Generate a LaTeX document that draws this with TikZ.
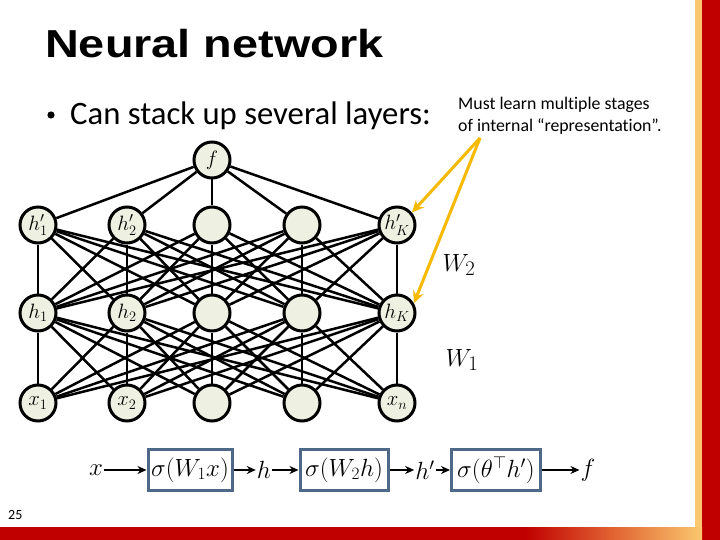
\documentclass[tikz,border=0pt]{standalone}
\usepackage{fontspec}
\setmainfont[Ligatures={NoCommon}]{Carlito}
\newfontfamily\titlefont{Liberation Sans}
\usepackage{amsmath}
\usetikzlibrary{arrows.meta}
\definecolor{nodefill}{RGB}{238,240,225}
\definecolor{slidered}{RGB}{192,0,0}
\definecolor{stripe}{RGB}{250,200,110}
\definecolor{boxblue}{RGB}{78,105,135}
\definecolor{arrowgold}{RGB}{245,185,0}
\begin{document}
\begin{tikzpicture}[x=1pt,y=-1pt,
  neuron/.style={circle,draw=black,line width=3pt,fill=nodefill,minimum size=36pt,inner sep=0pt,font=\fontsize{21}{24}\selectfont},
  conn/.style={line width=2.5pt,black},
  fbox/.style={draw=boxblue,line width=3pt,minimum height=41pt,inner sep=1pt,font=\fontsize{25}{28}\selectfont},
  flab/.style={inner sep=1pt,font=\fontsize{25}{28}\selectfont},
  farrow/.style={line width=2.2pt,-{Stealth[length=9pt,width=8pt]}},
  goldarrow/.style={draw=arrowgold,line width=3pt,-{Stealth[length=12pt,width=11pt]}}]
\useasboundingbox (0,0) rectangle (720,540);
\fill[white] (0,0) rectangle (720,540);
% slide frame
\fill[slidered] (702,0) rectangle (720,540);
\fill[stripe] (695,0) rectangle (702,527);
\fill[slidered] (0,527) rectangle (530,540);
\shade[left color=slidered,right color=stripe,middle color={rgb,255:red,225;green,100;blue,50}] (525,527) rectangle (702,540);
% title and bullet
\node[anchor=base west,inner sep=0pt,font=\titlefont\bfseries\fontsize{39}{44}\selectfont] (title) at (45,58) {\scalebox{1.2}[1]{Neural network}};
\fill (51,115) circle (3.6pt);
\node[anchor=base west,inner sep=0pt,font=\fontsize{32.7}{36}\selectfont] (bullet) at (70,125) {Can stack up several layers:};
\node[anchor=north west,inner sep=0pt,align=left,font=\fontsize{17.8}{22}\selectfont] (note) at (458,97) {Must learn multiple stages\\ of internal ``representation''.};
\node[anchor=base west,inner sep=0pt,font=\fontsize{14}{16}\selectfont] (page) at (8,519) {25};
% network nodes
\node[neuron] (f) at (212,160) {$f$};
\node[neuron] (p1) at (38,225) {$h'_1$};
\node[neuron] (p2) at (127,225) {$h'_2$};
\node[neuron] (p3) at (212,225) {};
\node[neuron] (p4) at (302,225) {};
\node[neuron] (p5) at (397,225) {$h'_K$};
\node[neuron] (h1) at (38,313) {$h_1$};
\node[neuron] (h2) at (127,313) {$h_2$};
\node[neuron] (h3) at (212,313) {};
\node[neuron] (h4) at (302,313) {};
\node[neuron] (h5) at (397,313) {$h_K$};
\node[neuron] (x1) at (38,403) {$x_1$};
\node[neuron] (x2) at (127,403) {$x_2$};
\node[neuron] (x3) at (212,403) {};
\node[neuron] (x4) at (302,403) {};
\node[neuron] (x5) at (397,403) {$x_n$};
\foreach \i in {1,...,5} {
  \draw[conn] (f) -- (p\i);
  \foreach \j in {1,...,5} {
    \draw[conn] (p\i) -- (h\j);
    \draw[conn] (h\i) -- (x\j);
  }
}
\node[inner sep=0pt,font=\fontsize{30}{34}\selectfont] (w2) at (459,265) {$W_2$};
\node[inner sep=0pt,font=\fontsize{30}{34}\selectfont] (w1) at (462,360) {$W_1$};
% gold arrows
\coordinate (gs) at (480,138);
\draw[goldarrow] (gs) -- (p5.40);
\draw[goldarrow] (gs) -- (h5.30);
% flow
\node[flab] (fx) at (96,470) {$x$};
\node[fbox,minimum width=84pt] (b1) at (190,470) {$\sigma(W_1x)$};
\node[flab] (fh) at (264,470) {$h$};
\node[fbox,minimum width=88pt] (b2) at (344,470) {$\sigma(W_2h)$};
\node[flab] (fhp) at (425,470) {$h'$};
\node[fbox,minimum width=89pt] (b3) at (496,470) {$\sigma(\theta^{\top}h')$};
\node[flab] (ff) at (588,470) {$f$};
\draw[farrow] (fx) -- (b1);
\draw[farrow] (b1) -- (fh);
\draw[farrow] (fh) -- (b2);
\draw[farrow] (b2) -- (fhp);
\draw[farrow] (fhp) -- (b3);
\draw[farrow] (b3) -- (ff);
\end{tikzpicture}
\end{document}
